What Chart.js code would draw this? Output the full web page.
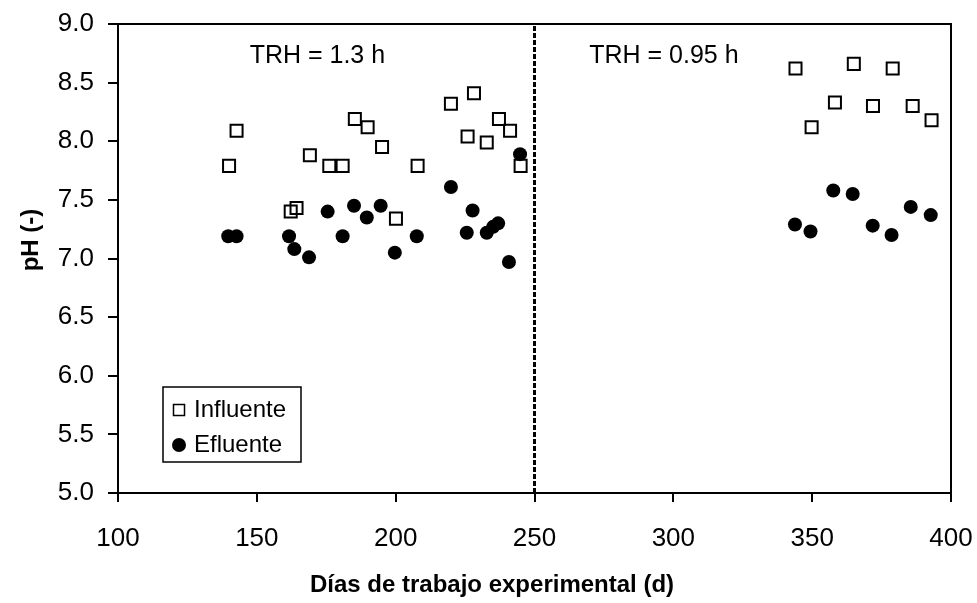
<!DOCTYPE html>
<html>
<head>
<meta charset="utf-8">
<script src="https://cdn.jsdelivr.net/npm/chart.js@4.4.1/dist/chart.umd.min.js"></script>
<style>
  html, body { margin: 0; padding: 0; background: #ffffff; }
  #wrap { width: 977px; height: 603px; }
</style>
</head>
<body>
<div id="wrap"><canvas id="c" width="977" height="603"></canvas></div>
<script>
// ---- Data ----
const influenteDays = [140.0, 142.7, 162.2, 164.3, 169.1, 176.1, 180.9, 185.3, 189.9, 195.1, 200.1, 207.9, 219.9, 225.9, 228.2, 232.8, 237.2, 241.2, 245.0, 344.0, 349.8, 358.2, 365.0, 371.9, 379.0, 386.2, 393.0];
const influentePH   = [7.79, 8.09, 7.40, 7.43, 7.88, 7.79, 7.79, 8.19, 8.12, 7.95, 7.34, 7.79, 8.32, 8.04, 8.41, 7.99, 8.19, 8.09, 7.79, 8.62, 8.12, 8.33, 8.66, 8.30, 8.62, 8.30, 8.18];

const efluenteDays = [139.7, 142.7, 161.6, 163.5, 168.8, 175.5, 180.9, 185.0, 189.6, 194.6, 199.7, 207.6, 219.9, 225.6, 227.7, 232.8, 235.1, 236.9, 240.8, 244.8, 343.8, 349.4, 357.6, 364.6, 371.8, 378.6, 385.5, 392.7];
const efluentePH   = [7.19, 7.19, 7.19, 7.08, 7.01, 7.40, 7.19, 7.45, 7.35, 7.45, 7.05, 7.19, 7.61, 7.22, 7.41, 7.22, 7.27, 7.30, 6.97, 7.89, 7.29, 7.23, 7.58, 7.55, 7.28, 7.20, 7.44, 7.37];

const seriesLabels = ['Influente', 'Efluente'];
const changeDay = 250;            // vertical dashed line (change of TRH)
const xTicks = [100, 150, 200, 250, 300, 350, 400];
const yTicks = [5.0, 5.5, 6.0, 6.5, 7.0, 7.5, 8.0, 8.5, 9.0];
const annotationLabels = ['TRH = 1.3 h', 'TRH = 0.95 h'];
const annotationDays   = [171.8, 296.6];
const annotationPH     = [8.73, 8.73];
const xTitle = 'Días de trabajo experimental (d)';
const yTitle = 'pH (-)';

// ---- Build ----
const FONT = "'Liberation Sans', Arial, Helvetica, sans-serif";
const toPts = (xs, ys) => xs.map((x, i) => ({ x: x, y: ys[i] }));

const overlay = {
  id: 'overlay',
  afterDatasetsDraw(chart) {
    const ctx = chart.ctx;
    const a = chart.chartArea;
    const xs = chart.scales.x, ys = chart.scales.y;
    ctx.save();
    // frame
    ctx.strokeStyle = '#000';
    ctx.lineWidth = 2;
    ctx.strokeRect(a.left, a.top, a.right - a.left, a.bottom - a.top);

    // annotations
    ctx.fillStyle = '#000';
    ctx.font = '25px ' + FONT;
    ctx.textAlign = 'center';
    ctx.textBaseline = 'middle';
    annotationLabels.forEach((t, i) => {
      ctx.fillText(t, xs.getPixelForValue(annotationDays[i]), ys.getPixelForValue(annotationPH[i]));
    });

    // axis titles
    ctx.font = 'bold 24px ' + FONT;
    ctx.textAlign = 'center';
    ctx.textBaseline = 'middle';
    ctx.fillText(xTitle, 492, 585);
    ctx.save();
    ctx.translate(31, 240);
    ctx.rotate(-Math.PI / 2);
    ctx.fillText(yTitle, 0, 0);
    ctx.restore();

    // legend
    const lx = 163, ly = 387, lw = 138, lh = 75;
    ctx.fillStyle = '#fff';
    ctx.fillRect(lx, ly, lw, lh);
    ctx.strokeStyle = '#000';
    ctx.lineWidth = 1.5;
    ctx.strokeRect(lx, ly, lw, lh);
    ctx.strokeRect(173.5, 404.5, 11, 11);
    ctx.fillStyle = '#000';
    ctx.beginPath();
    ctx.arc(179, 445, 7, 0, Math.PI * 2);
    ctx.fill();
    ctx.font = '24px ' + FONT;
    ctx.textAlign = 'left';
    ctx.textBaseline = 'middle';
    ctx.fillText(chart.data.datasets[0].label, 194, 410);
    ctx.fillText(chart.data.datasets[1].label, 194, 445);
    ctx.restore();
  }
};

new Chart(document.getElementById('c'), {
  type: 'scatter',
  data: {
    datasets: [
      {
        label: seriesLabels[0],
        data: toPts(influenteDays, influentePH),
        pointStyle: 'rect',
        pointRadius: 8.5,
        pointHoverRadius: 8.5,
        borderColor: '#000',
        backgroundColor: 'rgba(0,0,0,0)',
        borderWidth: 2,
        order: 1
      },
      {
        label: seriesLabels[1],
        data: toPts(efluenteDays, efluentePH),
        pointStyle: 'circle',
        pointRadius: 7,
        pointHoverRadius: 7,
        borderColor: '#000',
        backgroundColor: '#000',
        borderWidth: 0,
        order: 0
      },
      {
        label: 'cambio',
        type: 'line',
        data: [{ x: changeDay, y: yTicks[0] }, { x: changeDay, y: yTicks[yTicks.length - 1] }],
        showLine: true,
        borderColor: '#000',
        borderWidth: 3,
        borderDash: [5, 2],
        pointRadius: 0,
        fill: false,
        order: 2
      }
    ]
  },
  options: {
    responsive: false,
    animation: false,
    devicePixelRatio: 1,
    layout: { padding: { left: 0, right: 26, top: 24, bottom: 0 } },
    plugins: {
      legend: { display: false },
      tooltip: { enabled: false },
      title: { display: false }
    },
    scales: {
      x: {
        type: 'linear',
        min: xTicks[0],
        max: xTicks[xTicks.length - 1],
        afterBuildTicks: (s) => { s.ticks = xTicks.map(v => ({ value: v })); },
        afterFit: (s) => { s.height = 110; s.paddingLeft = 0; s.paddingRight = 0; },
        ticks: {
          color: '#000',
          font: { family: FONT, size: 26 },
          padding: 21,
          maxRotation: 0,
          callback: (v) => String(v)
        },
        grid: { drawOnChartArea: false, drawTicks: true, tickLength: 9, color: '#000', lineWidth: 2 },
        border: { display: true, color: '#000', width: 2 }
      },
      y: {
        type: 'linear',
        min: yTicks[0],
        max: yTicks[yTicks.length - 1],
        afterBuildTicks: (s) => { s.ticks = yTicks.map(v => ({ value: v })); },
        afterFit: (s) => { s.width = 118; s.paddingTop = 0; s.paddingBottom = 0; },
        ticks: {
          color: '#000',
          font: { family: FONT, size: 26 },
          padding: 14,
          callback: (v) => Number(v).toFixed(1)
        },
        grid: { drawOnChartArea: false, drawTicks: true, tickLength: 10, color: '#000', lineWidth: 2 },
        border: { display: true, color: '#000', width: 2 }
      }
    }
  },
  plugins: [overlay]
});
</script>
</body>
</html>
